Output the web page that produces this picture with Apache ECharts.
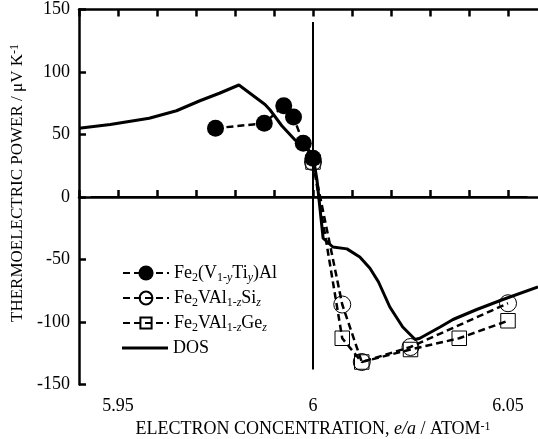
<!DOCTYPE html>
<html><head><meta charset="utf-8">
<script src="https://cdn.jsdelivr.net/npm/echarts@6/dist/echarts.min.js"></script>
<style>html,body{margin:0;padding:0;background:#fff}#c{width:538px;height:439px}</style>
</head><body><div id="c"></div>
<script>
// ---- data ----
const xTickLabels = ['5.95', '6', '6.05'];
const tiData = [[5.975, 55], [5.9875, 59], [5.9925, 73], [5.995, 64], [5.9975, 43], [6.0, 31]];
const siData = [[6.0, 28], [6.0075, -86], [6.0125, -132], [6.025, -120], [6.05, -85]];
const geData = [[6.0, 28], [6.0075, -113], [6.0125, -132], [6.025, -122], [6.0375, -113], [6.05, -99]];
const dosData = [[5.94, 55], [5.948, 58], [5.958, 63], [5.965, 69], [5.971, 77], [5.976, 83], [5.981, 89.6],
  [5.9877, 74], [5.989, 69.6], [5.992, 57], [5.9954, 45.6], [5.9985, 39], [6.0, 33], [6.001, 14],
  [6.0026, -33], [6.0051, -40], [6.0087, -41.5], [6.012, -48], [6.0146, -57], [6.0168, -68], [6.0197, -88],
  [6.023, -104], [6.0262, -114], [6.0274, -113], [6.0326, -104], [6.0359, -98], [6.042, -90],
  [6.0487, -82], [6.0577, -72]];
const zeroLineH = [[5.943, 0], [6.055, 0]];
const zeroLineV = [[6.0, 140], [6.0, -138]];
const legendLabels = {
  Ti: 'Fe{s|2}(V{s|1-}{si|y}Ti{si|y})Al',
  Si: 'Fe{s|2}VAl{s|1-}{si|z}Si{si|z}',
  Ge: 'Fe{s|2}VAl{s|1-}{si|z}Ge{si|z}',
  DOS: 'DOS'
};

const FONT = 'Liberation Serif';
const richSub = {
  s: { fontFamily: FONT, fontSize: 12, verticalAlign: 'bottom', color: '#000' },
  si: { fontFamily: FONT, fontSize: 12, fontStyle: 'italic', verticalAlign: 'bottom', color: '#000' },
  sup: { fontFamily: FONT, fontSize: 12, verticalAlign: 'top', color: '#000' },
  it: { fontFamily: FONT, fontSize: 18, fontStyle: 'italic', color: '#000' }
};

const chart = echarts.init(document.getElementById('c'), null, { renderer: 'canvas' });

function mkLegend(item, centerY, itemH) {
  return {
    data: [item], orient: 'vertical', left: 122, top: centerY - 11,
    itemWidth: 46, itemHeight: itemH, selectedMode: false, padding: 0,
    textStyle: { fontFamily: FONT, fontSize: 18, color: '#000', rich: richSub, lineHeight: 22 },
    formatter: n => legendLabels[n]
  };
}

const axisCommon = {
  type: 'value', min: 5.94, max: 6.06, interval: 0.01,
  axisLine: { show: true, lineStyle: { color: '#000', width: 2.5 } },
  axisTick: { show: true, inside: true, length: 7, lineStyle: { color: '#000', width: 2.5 } },
  splitLine: { show: false }
};

const dash = [7, 4];

chart.setOption({
  animation: false,
  backgroundColor: '#fff',
  grid: { left: 79, right: -9, top: 9.5, bottom: 54.5, containLabel: false, outerBoundsMode: 'none' },
  legend: [
    mkLegend('Ti', 273, 19),
    mkLegend('Si', 298, 16),
    mkLegend('Ge', 323, 14),
    Object.assign(mkLegend({ name: 'DOS', icon: 'rect', itemStyle: { color: '#000', borderWidth: 0 } }, 348, 3), { top: 348 - 11 })
  ],
  xAxis: [
    Object.assign({}, axisCommon, {
      position: 'bottom',
      axisLabel: {
        show: true, margin: 13, fontFamily: FONT, fontSize: 18, color: '#000',
        formatter: v => { const s = String(+v.toFixed(2)); return xTickLabels.includes(s) ? s : ''; }
      },
      name: 'ELECTRON CONCENTRATION, {it|e/a} / ATOM{sup|-1}',
      nameLocation: 'middle', nameGap: 29,
      nameTextStyle: { fontFamily: FONT, fontSize: 18, color: '#000', rich: richSub }
    }),
    Object.assign({}, axisCommon, { position: 'top', axisLabel: { show: false } })
  ],
  yAxis: {
    type: 'value', min: -150, max: 150, interval: 50,
    axisLine: { show: true, lineStyle: { color: '#000', width: 2.5 } },
    axisTick: { show: true, inside: true, length: 7, lineStyle: { color: '#000', width: 2.5 } },
    splitLine: { show: false },
    axisLabel: { margin: 9, fontFamily: FONT, fontSize: 18, color: '#000', formatter: v => String(v) },
    name: 'THERMOELECTRIC POWER / μV K{sup|-1}',
    nameLocation: 'middle', nameGap: 52, nameRotate: 90,
    nameTextStyle: { fontFamily: FONT, fontSize: 17, color: '#000', rich: richSub, padding: [0, 0, 0, 28] }
  },
  series: [
    { type: 'line', silent: true, data: zeroLineH, symbol: 'none', lineStyle: { color: '#000', width: 2 }, z: 1 },
    { type: 'line', silent: true, data: zeroLineV, symbol: 'none', lineStyle: { color: '#000', width: 2 }, z: 1 },
    { name: 'DOS', type: 'line', data: dosData, symbol: 'none', showSymbol: false,
      lineStyle: { color: '#000', width: 3 }, itemStyle: { color: '#000' }, z: 2 },
    { name: 'Si', type: 'line', data: siData, symbol: 'circle', symbolSize: 17,
      lineStyle: { color: '#000', width: 2.5, type: dash },
      itemStyle: { color: 'rgba(0,0,0,0)', borderColor: '#000', borderWidth: 1 }, z: 3 },
    { name: 'Ge', type: 'line', data: geData, symbol: 'rect', symbolSize: 14.5,
      lineStyle: { color: '#000', width: 2.5, type: dash },
      itemStyle: { color: 'rgba(0,0,0,0)', borderColor: '#000', borderWidth: 1 }, z: 3 },
    { name: 'Ti', type: 'line', data: tiData, symbol: 'circle', symbolSize: 17,
      lineStyle: { color: '#000', width: 2.5, type: dash },
      itemStyle: { color: '#000' }, z: 4 }
  ]
});
</script></body></html>
